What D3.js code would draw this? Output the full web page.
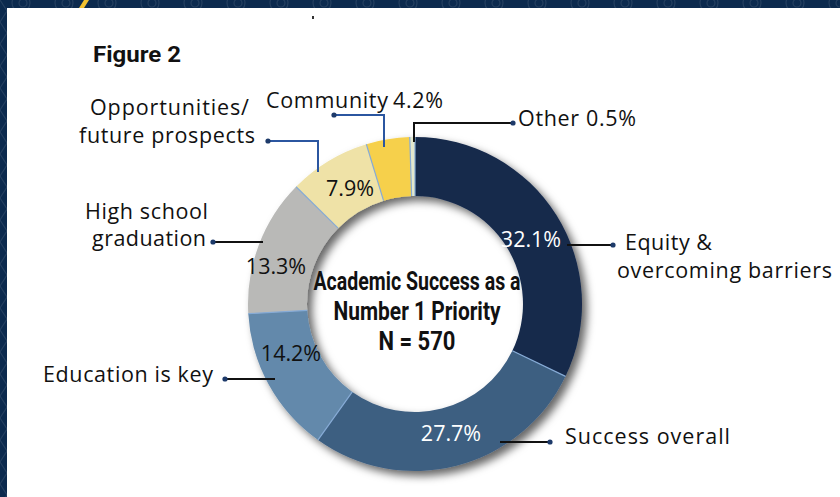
<!DOCTYPE html>
<html><head><meta charset="utf-8">
<script src="https://cdn.jsdelivr.net/npm/d3@7"></script>
<style>html,body{margin:0;padding:0;background:#0c2a4e;}svg{display:block;}</style>
</head><body>
<script>
// ---- data ----
const categories = ["Equity & overcoming barriers","Success overall","Education is key","High school graduation","Opportunities/ future prospects","Community","Other"];
const values = [32.1, 27.7, 14.2, 13.3, 7.9, 4.2, 0.5];
const valueLabels = ["32.1%","27.7%","14.2%","13.3%","7.9%","4.2%","0.5%"];
const colors = ["#15294b","#3e5e81","#6489ab","#b9b9b7","#efe2a7","#f6d04b","#e3e8cc"];
const titleText = "Figure 2";
const centerLines = ["Academic Success as a","Number 1 Priority","N = 570"];

// ---- layout (annotation positions) ----
const W = 840, H = 497;
const cx = 415, cy = 304, rOuter = 167, rInner = 108;

const svg = d3.select("body").append("svg").attr("width", W).attr("height", H);
const defs = svg.append("defs");
const f = defs.append("filter").attr("id","ds").attr("x","-20%").attr("y","-20%").attr("width","150%").attr("height","150%");
f.append("feDropShadow").attr("dx",5).attr("dy",5).attr("stdDeviation",4.5).attr("flood-color","#000").attr("flood-opacity",0.6);

// background frame
svg.append("rect").attr("width",W).attr("height",H).attr("fill","#0c2a4e");
const deco = svg.append("g").attr("fill","none").attr("stroke","rgba(255,255,255,0.10)").attr("stroke-width",1.2);
d3.range(21, 840, 43).forEach(x => { deco.append("circle").attr("cx",x).attr("cy",3).attr("r",9); deco.append("circle").attr("cx",x+2).attr("cy",3).attr("r",4); });
d3.range(0, 497, 22).forEach(y => { deco.append("path").attr("d",`M0,${y} L7,${y+11} L0,${y+22}`); });
svg.append("path").attr("d","M79,8 L84,0 L89,0 L84,8 Z").attr("fill","#f2c230");
svg.append("rect").attr("x",7).attr("y",8).attr("width",W-7).attr("height",H-8).attr("fill","#ffffff");
svg.append("rect").attr("x",312).attr("y",16).attr("width",2).attr("height",3).attr("fill","#333");

// title
svg.append("text").attr("x",93).attr("y",62).text(titleText)
  .attr("font-family","Roboto, sans-serif").attr("font-weight",700).attr("font-size",22)
  .attr("textLength",88).attr("lengthAdjust","spacingAndGlyphs").attr("fill","#111");

// donut
const pie = d3.pie().sort(null).value(d => d)(values);
const arc = d3.arc().innerRadius(rInner).outerRadius(rOuter);
const g = svg.append("g").attr("transform",`translate(${cx},${cy})`);
const ring = g.append("g").attr("filter","url(#ds)");
ring.selectAll("path").data(pie).join("path")
  .attr("d", arc).attr("fill",(d,i)=>colors[i]);
// separators
g.append("g").selectAll("line").data(pie).join("line")
  .attr("x1", d => rInner*Math.sin(d.startAngle)).attr("y1", d => -rInner*Math.cos(d.startAngle))
  .attr("x2", d => rOuter*Math.sin(d.startAngle)).attr("y2", d => -rOuter*Math.cos(d.startAngle))
  .attr("stroke","#86abd6").attr("stroke-width",1.2);

// center text
const ct = [[290,207],[320,167],[350,77]];
centerLines.forEach((t,i)=>{
  svg.append("text").attr("x",cx+2).attr("y",ct[i][0]).attr("text-anchor","middle").text(t)
    .attr("font-family","Roboto, sans-serif").attr("font-weight",700).attr("font-size",25)
    .attr("textLength",ct[i][1]).attr("lengthAdjust","spacingAndGlyphs").attr("fill","#111");
});

// percentage labels inside ring
const pctPos = [[531,247,"#fff"],[451,441,"#fff"],[291,361,"#111"],[276,274,"#111"],[350,196,"#111"]];
const labFont = "'Open Sans', sans-serif";
pctPos.forEach((p,i)=>{
  svg.append("text").attr("x",p[0]).attr("y",p[1]).attr("text-anchor","middle").text(valueLabels[i])
    .attr("font-family",labFont).attr("font-size",21.5).attr("fill",p[2]);
});

// leader lines: [points], colour, dot
const leaders = [
  {pts:[[567,245],[613,245]], c:"#111"},
  {pts:[[500,442],[550,442]], c:"#111"},
  {pts:[[275,379],[225,379]], c:"#111"},
  {pts:[[263,242],[213,242]], c:"#111"},
  {pts:[[318,172],[318,141],[268,141]], c:"#2b56a0"},
  {pts:[[384,147],[384,115],[334,115]], c:"#2b56a0"},
  {pts:[[414,142],[414,123],[513,123]], c:"#111"}
];
const line = d3.line();
leaders.forEach(l=>{
  svg.append("path").attr("d",line(l.pts)).attr("fill","none").attr("stroke",l.c).attr("stroke-width",2);
  const e = l.pts[l.pts.length-1];
  svg.append("circle").attr("cx",e[0]).attr("cy",e[1]).attr("r",2.6).attr("fill","#1d3a6a");
});

// category labels: [text, x, baseline, width]
const catLabels = [
  [["Equity &",625,250,87],["overcoming barriers",617,278,215]],
  [["Success overall",565,444,165]],
  [["Education is key",43,382,170]],
  [["High school",85,219,123],["graduation",92,246,114]],
  [["Opportunities/",90,115,159],["future prospects",79,143,176]],
  [["Community",266,108,122]],
  [["Other " + valueLabels[6],518,126,118]]
];
catLabels.forEach(c=>{
  c.forEach(l=>{
    svg.append("text").attr("x",l[1]).attr("y",l[2]).text(l[0])
      .attr("font-family",labFont).attr("font-size",21.5).attr("fill","#111")
      .attr("textLength",l[3]).attr("lengthAdjust","spacing");
  });
});
svg.append("text").attr("x",393).attr("y",108).text(valueLabels[5])
  .attr("font-family",labFont).attr("font-size",21.5).attr("fill","#111")
  .attr("textLength",50).attr("lengthAdjust","spacing");
</script>
</body></html>
